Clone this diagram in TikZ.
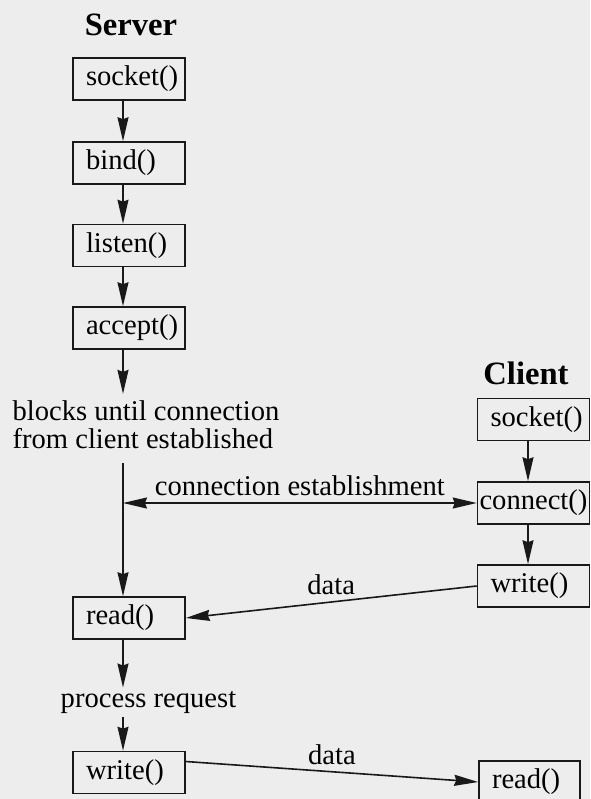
\documentclass[tikz,border=0pt]{standalone}
\usepackage{fontspec}
\setmainfont{Liberation Serif}
\usetikzlibrary{arrows.meta}

\begin{document}
\begin{tikzpicture}[x=0.5pt, y=-0.5pt,
    callbox/.style={draw=black!90, line width=0.8pt, minimum height=21pt,
        text width=43pt, align=left, inner xsep=6.5pt, inner ysep=0pt,
        font=\fontsize{14.3}{16}\selectfont},
    heading/.style={font=\bfseries\fontsize{16.3}{18}\selectfont},
    note/.style={font=\fontsize{14.3}{14}\selectfont, align=center},
    flow/.style={draw=black!90, line width=0.8pt,
        -{Stealth[length=12pt, width=5.5pt, inset=1pt]}},
    both/.style={draw=black!90, line width=0.8pt,
        {Stealth[length=12pt, width=5.5pt, inset=1pt]}-{Stealth[length=12pt, width=5.5pt, inset=1pt]}}]

    % ==========================================
    % Page background and frame size
    % ==========================================
    \fill[black!7] (0,0) rectangle (590,799);
    \useasboundingbox (0,0) rectangle (590,799);

    % Columns the arrows run along
    \coordinate (SrvCol) at (123,0);
    \coordinate (CliCol) at (528,0);

    % ==========================================
    % SERVER SIDE
    % ==========================================
    \node[heading] (SrvHead) at (131,25) {Server};
    \node[callbox] (SrvSocket) at (129,79) {socket()};
    \node[callbox] (SrvBind) at (129,163) {bind()};
    \node[callbox] (SrvListen) at (129,245.5) {listen()};
    \node[callbox] (SrvAccept) at (129,328) {accept()};
    \node[note, align=left] (Blocks) at (146,425) {blocks until connection\\from client established};
    \coordinate (WaitPt) at (123,463);
    \coordinate (EstabPt) at (123,503);
    \node[callbox] (SrvRead) at (129,618) {read()};
    \node[note, inner ysep=1.5pt] (Process) at (148.5,702) {process request};
    \node[callbox] (SrvWrite) at (129,772.5) {write()};

    \draw[flow] (SrvSocket.south -| SrvCol) -- (SrvBind.north -| SrvCol);
    \draw[flow] (SrvBind.south -| SrvCol) -- (SrvListen.north -| SrvCol);
    \draw[flow] (SrvListen.south -| SrvCol) -- (SrvAccept.north -| SrvCol);
    \draw[flow] (SrvAccept.south -| SrvCol) -- (Blocks.north -| SrvCol);
    \draw[flow] (WaitPt) -- (SrvRead.north -| SrvCol);
    \draw[flow] (SrvRead.south -| SrvCol) -- (Process.north -| SrvCol);
    \draw[flow] (Process.south -| SrvCol) -- (SrvWrite.north -| SrvCol);

    % ==========================================
    % CLIENT SIDE
    % ==========================================
    \node[heading] (CliHead) at (526,373) {Client};
    \node[callbox] (CliSocket) at (533.5,419.5) {socket()};
    \node[callbox, text width=54pt, inner xsep=1pt] (CliConnect) at (533.5,503) {connect()};
    \node[callbox] (CliWrite) at (533.5,586) {write()};
    \node[callbox, text width=37.5pt] (CliRead) at (529.5,782) {read()};

    \draw[flow] (CliSocket.south -| CliCol) -- (CliConnect.north -| CliCol);
    \draw[flow] (CliConnect.south -| CliCol) -- (CliWrite.north -| CliCol);

    % ==========================================
    % Messages between the two sides
    % ==========================================
    \draw[both] (EstabPt) -- (CliConnect.west)
        node[midway, above, note] {connection establishment};
    \draw[flow] (CliWrite.west) -- (SrvRead.east)
        node[midway, above, note] {data};
    \draw[flow] ([yshift=5.5pt]SrvWrite.east) -- (CliRead.west)
        node[midway, above, note] {data};

\end{tikzpicture}
\end{document}
